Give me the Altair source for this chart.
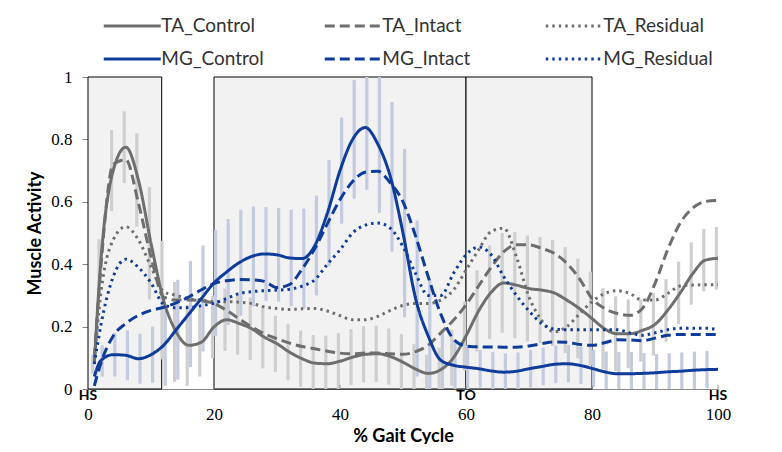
import altair as alt
import pandas as pd

# ---------------- data ----------------
x_pct = [1] + list(range(2, 101, 2))

ta_control = [0.08, 0.40, 0.70, 0.775, 0.67, 0.467, 0.285, 0.183, 0.14, 0.15,
              0.199, 0.222, 0.21, 0.193, 0.166, 0.145, 0.118, 0.097, 0.083, 0.081,
              0.089, 0.102, 0.111, 0.113, 0.104, 0.086, 0.064, 0.05, 0.062, 0.10,
              0.17, 0.25, 0.31, 0.34, 0.333, 0.322, 0.317, 0.308, 0.285, 0.258,
              0.226, 0.193, 0.177, 0.177, 0.188, 0.207, 0.252, 0.308, 0.37, 0.413,
              0.419]
ta_intact = [0.10, 0.38, 0.72, 0.735, 0.596, 0.424, 0.295, 0.285, 0.285, 0.283,
             0.274, 0.252, 0.225, 0.199, 0.177, 0.161, 0.147, 0.136, 0.129, 0.121,
             0.115, 0.113, 0.115, 0.115, 0.113, 0.111, 0.12, 0.14, 0.18, 0.22,
             0.27, 0.33, 0.39, 0.44, 0.462, 0.462, 0.451, 0.435, 0.403, 0.354,
             0.29, 0.258, 0.242, 0.236, 0.258, 0.338, 0.446, 0.532, 0.58, 0.601,
             0.604]
ta_residual = [0.09, 0.30, 0.478, 0.52, 0.478, 0.392, 0.312, 0.30, 0.29, 0.285,
               0.28, 0.28, 0.278, 0.274, 0.263, 0.258, 0.255, 0.257, 0.258, 0.25,
               0.235, 0.222, 0.222, 0.233, 0.252, 0.268, 0.274, 0.274, 0.285, 0.317,
               0.381, 0.446, 0.505, 0.515, 0.424, 0.295, 0.22, 0.183, 0.20, 0.24,
               0.28, 0.306, 0.315, 0.306, 0.285, 0.285, 0.306, 0.33, 0.333, 0.334,
               0.334]
mg_control = [0.04, 0.09, 0.11, 0.108, 0.097, 0.11, 0.14, 0.19, 0.24, 0.29,
              0.34, 0.375, 0.405, 0.425, 0.433, 0.43, 0.42, 0.418, 0.46, 0.564,
              0.70, 0.80, 0.838, 0.785, 0.68, 0.50, 0.29, 0.17, 0.092, 0.076,
              0.07, 0.065, 0.058, 0.054, 0.057, 0.065, 0.072, 0.079, 0.081, 0.076,
              0.066, 0.055, 0.049, 0.049, 0.05, 0.052, 0.055, 0.057, 0.06, 0.062,
              0.063]
mg_intact = [0.01, 0.08, 0.17, 0.21, 0.236, 0.252, 0.262, 0.276, 0.295, 0.318,
             0.338, 0.347, 0.351, 0.35, 0.345, 0.325, 0.335, 0.385, 0.45, 0.53,
             0.607, 0.665, 0.695, 0.698, 0.66, 0.60, 0.49, 0.36, 0.24, 0.16,
             0.138, 0.135, 0.135, 0.134, 0.134, 0.138, 0.145, 0.151, 0.15, 0.143,
             0.14, 0.148, 0.158, 0.157, 0.155, 0.163, 0.172, 0.175, 0.175, 0.175,
             0.175]
mg_residual = [0.08, 0.20, 0.36, 0.416, 0.39, 0.34, 0.272, 0.26, 0.261, 0.267,
               0.275, 0.29, 0.306, 0.312, 0.315, 0.317, 0.32, 0.33, 0.35, 0.40,
               0.446, 0.50, 0.525, 0.532, 0.515, 0.456, 0.37, 0.30, 0.30, 0.37,
               0.43, 0.455, 0.43, 0.36, 0.30, 0.25, 0.21, 0.192, 0.19, 0.19,
               0.19, 0.19, 0.19, 0.18, 0.172, 0.18, 0.19, 0.195, 0.195, 0.195,
               0.19]

# standard deviations drawn as vertical bars around the control curves
ta_sd = [0.03, 0.08, 0.13, 0.115, 0.15, 0.18, 0.19, 0.16, 0.13, 0.11,
         0.10, 0.10, 0.10, 0.10, 0.10, 0.09, 0.09, 0.09, 0.09, 0.09,
         0.09, 0.09, 0.09, 0.09, 0.09, 0.09, 0.08, 0.06, 0.07, 0.09,
         0.11, 0.13, 0.15, 0.16, 0.17, 0.17, 0.17, 0.17, 0.17, 0.16,
         0.15, 0.13, 0.12, 0.11, 0.10, 0.10, 0.10, 0.10, 0.10, 0.10,
         0.10]
mg_sd = [0.02, 0.05, 0.07, 0.08, 0.08, 0.09, 0.13, 0.16, 0.17, 0.17,
         0.17, 0.17, 0.17, 0.16, 0.15, 0.15, 0.155, 0.16, 0.16, 0.17,
         0.17, 0.19, 0.20, 0.22, 0.24, 0.27, 0.25, 0.18, 0.10, 0.08,
         0.07, 0.06, 0.06, 0.06, 0.06, 0.06, 0.06, 0.06, 0.06, 0.06,
         0.06, 0.065, 0.07, 0.07, 0.065, 0.06, 0.06, 0.06, 0.06, 0.06,
         0.06]

series_names = ["TA_Control", "TA_Intact", "TA_Residual",
                "MG_Control", "MG_Intact", "MG_Residual"]
series_values = [ta_control, ta_intact, ta_residual,
                 mg_control, mg_intact, mg_residual]

phase_start = [0, 20, 60]
phase_end = [11.7, 60, 80]

event_x = [0, 60, 100]
event_label = ["HS", "TO", "HS"]

x_ticks = [0, 20, 40, 60, 80, 100]
y_ticks = [0, 0.2, 0.4, 0.6, 0.8, 1]

# ---------------- tables ----------------
rows = []
for name, vals in zip(series_names, series_values):
    for xv, v in zip(x_pct, vals):
        rows.append({"x": xv, "value": v, "series": name})
lines_df = pd.DataFrame(rows)

def bar_table(means, sds):
    return pd.DataFrame({
        "x": x_pct,
        "lo": [max(0.0, m - s) for m, s in zip(means, sds)],
        "hi": [min(1.0, m + s) for m, s in zip(means, sds)],
    })

ta_bars = bar_table(ta_control, ta_sd)
mg_bars = bar_table(mg_control, mg_sd)

phase_df = pd.DataFrame({"start": phase_start, "end": phase_end,
                         "top": [1] * 3, "bottom": [0] * 3})
event_df = pd.DataFrame({"x": event_x, "label": event_label})
tick_df = pd.DataFrame({"x": x_ticks[1:], "y0": [0] * 5, "y1": [0.013] * 5})

# ---------------- scales / axes ----------------
xscale = alt.Scale(domain=[0, 100], nice=False, zero=False)
yscale = alt.Scale(domain=[0, 1], nice=False)
xaxis = alt.Axis(values=x_ticks, title="% Gait Cycle", ticks=False,
                 labelPadding=17, titlePadding=0, titleY=38,
                 titleBaseline="top", labelFlush=False)
yaxis = alt.Axis(values=y_ticks, format="~g", title="Muscle Activity",
                 tickSize=6, labelPadding=10, titleX=-44)

def X(field):
    return alt.X(field, type="quantitative", scale=xscale, axis=xaxis)

def Y(field):
    return alt.Y(field, type="quantitative", scale=yscale, axis=yaxis)

gray = "#6e6e6e"
blue = "#0e3c9a"

phases = alt.Chart(phase_df).mark_rect(
    fill="#f2f2f2", stroke="black", strokeWidth=1
).encode(x=X("start"), x2="end", y=Y("top"), y2="bottom")

ta_err = alt.Chart(ta_bars).mark_rule(
    color="#cfcfcf", strokeWidth=3.2, xOffset=-1.6, clip=True
).encode(x=X("x"), y=Y("lo"), y2="hi")

mg_err = alt.Chart(mg_bars).mark_rule(
    color="#c3cbe0", strokeWidth=3.2, xOffset=1.6, clip=True
).encode(x=X("x"), y=Y("lo"), y2="hi")

lines = alt.Chart(lines_df).mark_line(
    strokeWidth=3, interpolate="monotone", strokeCap="butt"
).encode(
    x=X("x"),
    y=Y("value"),
    color=alt.Color(
        "series:N",
        scale=alt.Scale(domain=series_names,
                        range=[gray, gray, gray, blue, blue, blue]),
        legend=alt.Legend(
            title=None, orient="none", legendX=14, legendY=-67,
            columns=3, direction="horizontal", gridAlign="all",
            symbolType="M-2,0H2", symbolSize=812, symbolStrokeWidth=3,
            symbolOffset=14.25,
            labelFont="Lato", labelFontSize=19, labelColor="#333333",
            labelOffset=13, columnPadding=47, rowPadding=7, padding=0,
            labelLimit=300,
        ),
    ),
    strokeDash=alt.StrokeDash(
        "series:N",
        scale=alt.Scale(domain=series_names,
                        range=[[1, 0], [10, 5], [2.5, 4],
                               [1, 0], [10, 5], [2.5, 4]]),
        legend=None,
    ),
    detail="series:N",
)

ticks = alt.Chart(tick_df).mark_rule(color="#888888", strokeWidth=1).encode(
    x=X("x"), y=Y("y0"), y2="y1")

events = alt.Chart(event_df).mark_text(
    font="Lato", fontSize=14, fontWeight="bold", color="black",
    baseline="top", align="center"
).encode(x=X("x"), y=alt.value(312), text="label:N")

chart = alt.layer(phases, ta_err, mg_err, lines, ticks, events).properties(
    width=630, height=312,
    autosize=alt.AutoSizeParams(type="none"),
    padding={"left": 80, "top": 69, "right": 56, "bottom": 55},
).configure_view(stroke=None).configure_axis(
    grid=False,
    labelFont="Liberation Serif", labelFontSize=17, labelColor="black",
    titleFont="Lato", titleFontSize=18, titleFontWeight="bold",
    titleColor="black", domainColor="#888888", tickColor="#888888",
)

chart.save("out.html", embed_options={"renderer": "svg", "actions": False})
